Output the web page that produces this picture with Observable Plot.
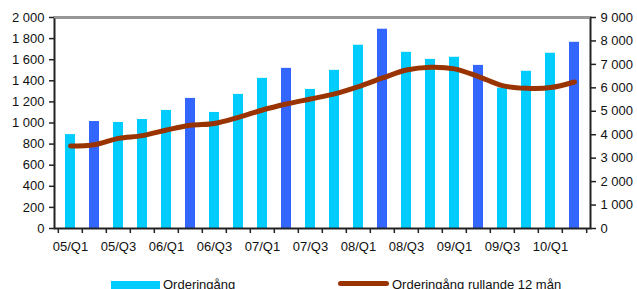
<!DOCTYPE html>
<html>
<head>
<meta charset="utf-8">
<script src="https://cdn.jsdelivr.net/npm/d3@7"></script>
<script src="https://cdn.jsdelivr.net/npm/@observablehq/plot@0.6"></script>
<style>
  html, body { margin: 0; padding: 0; background: #fff; }
  body { width: 637px; height: 289px; overflow: hidden; position: relative; font-family: "Liberation Sans", Arial, sans-serif; }
  #legend { position: absolute; left: 111px; top: 277px; font-size: 13px; line-height: 15px; color: #111; white-space: nowrap; }
  .item { position: absolute; top: 0; display: flex; align-items: center; }
  .sw-bar { display: inline-block; width: 49px; height: 9px; background: #00CCFF; margin-right: 3px; position: relative; top: 1px; }
  .sw-line { display: inline-block; width: 51px; height: 5px; border-radius: 3px; background: #993300; margin-right: 3px; position: relative; top: -1px; }
</style>
</head>
<body>
<div id="chart"></div>
<div id="legend">
  <div class="item" style="left:0px"><span class="sw-bar"></span><span>Orderingång</span></div>
  <div class="item" style="left:227px"><span class="sw-line"></span><span>Orderingång rullande 12 mån</span></div>
</div>
<script>
const categories = ["05/Q1","05/Q2","05/Q3","05/Q4","06/Q1","06/Q2","06/Q3","06/Q4","07/Q1","07/Q2","07/Q3","07/Q4","08/Q1","08/Q2","08/Q3","08/Q4","09/Q1","09/Q2","09/Q3","09/Q4","10/Q1","10/Q2"];
const orderValues = [890, 1014, 1005, 1033, 1119, 1233, 1100, 1271, 1423, 1518, 1318, 1499, 1737, 1889, 1670, 1603, 1623, 1546, 1331, 1490, 1661, 1765];
const rolling12 = [3520, 3575, 3845, 3960, 4200, 4400, 4480, 4740, 5055, 5310, 5525, 5740, 6050, 6420, 6760, 6880, 6810, 6480, 6095, 5980, 6010, 6250];
const xLabels = ["05/Q1","05/Q3","06/Q1","06/Q3","07/Q1","07/Q3","08/Q1","08/Q3","09/Q1","09/Q3","10/Q1"];
const leftTicks = [0, 200, 400, 600, 800, 1000, 1200, 1400, 1600, 1800, 2000];
const rightTicks = [0, 1000, 2000, 3000, 4000, 5000, 6000, 7000, 8000, 9000];

const ratio = 9000 / 2000;
const data = categories.map((c, i) => ({cat: c, order: orderValues[i], roll: rolling12[i]}));
const fmt0 = d3.formatLocale({thousands: " ", grouping: [3], decimal: ","}).format(",");
const fmt = d => fmt0(Math.round(d));

const W = 637, H = 265, mL = 54, mR = 47, mT = 17, mB = 37;
const step = (W - mL - mR) / categories.length;

const chart = Plot.plot({
  width: W, height: H,
  marginLeft: mL, marginRight: mR, marginTop: mT, marginBottom: mB,
  style: {fontFamily: "Liberation Sans, Arial, sans-serif", fontSize: "13px", color: "#111", background: "#fff"},
  x: {domain: categories, paddingInner: 0.58, paddingOuter: 0.29, axis: null},
  y: {domain: [0, 2000], axis: null},
  marks: [
    Plot.barY(data, {x: "cat", y: "order", fill: d => d.cat.endsWith("Q2") ? "#3366FF" : "#00CCFF"}),
    Plot.frame({stroke: "#222", strokeWidth: 2}),
    Plot.ruleY([2000], {stroke: "#999", strokeWidth: 2}),
    Plot.line(data, {x: "cat", y: d => d.roll / ratio, stroke: "#993300", strokeWidth: 5, curve: "catmull-rom", strokeLinecap: "round"}),
    Plot.axisY(leftTicks, {anchor: "left", tickFormat: fmt, tickSize: 5, tickPadding: 5, stroke: "#222", strokeWidth: 1.5, label: null}),
    Plot.axisY(rightTicks.map(v => v / ratio), {anchor: "right", tickFormat: d => fmt(d * ratio), tickSize: 5, tickPadding: 5, stroke: "#222", strokeWidth: 1.5, label: null}),
    Plot.axisX(categories, {anchor: "bottom", tickSize: 5, tickFormat: () => "", dx: -step / 2, stroke: "#222", strokeWidth: 1.5, label: null}),
    Plot.axisX([categories[categories.length - 1]], {anchor: "bottom", tickSize: 5, tickFormat: () => "", dx: step / 2, stroke: "#222", strokeWidth: 1.5, label: null}),
    Plot.axisX(xLabels, {anchor: "bottom", tickSize: 0, tickPadding: 13, label: null})
  ]
});
document.getElementById("chart").appendChild(chart);
</script>
</body>
</html>
